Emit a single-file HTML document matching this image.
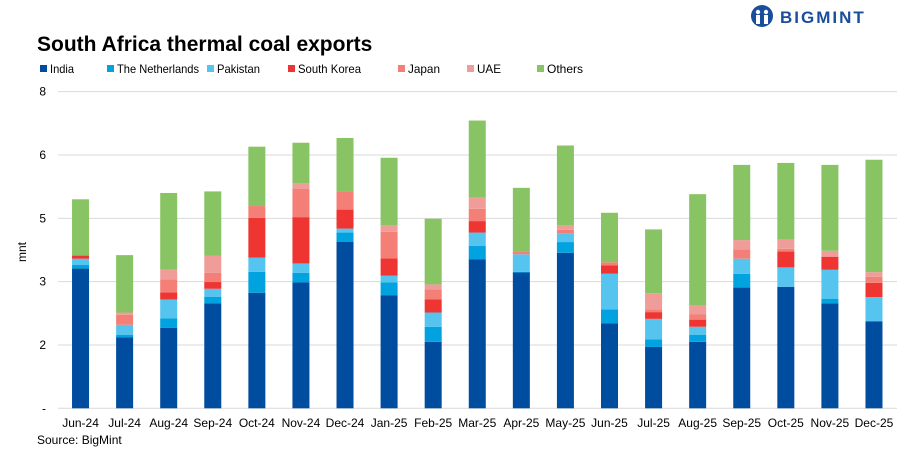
<!DOCTYPE html>
<html><head><meta charset="utf-8"><style>
body{margin:0;background:#fff;font-family:"Liberation Sans",sans-serif;}
#wrap{position:relative;width:907px;height:453px;overflow:hidden;}
</style></head><body>
<div id="wrap">
<svg id="chart" width="907" height="453">
  <text x="37" y="51" font-size="21" font-weight="bold" fill="#000">South Africa thermal coal exports</text>
  <g>
    <circle cx="762" cy="16" r="11" fill="#1a4d9c"/>
    <circle cx="758" cy="12" r="2.2" fill="#fff"/><circle cx="766" cy="12" r="2.2" fill="#fff"/>
    <rect x="756" y="15" width="4" height="9" fill="#fff"/><rect x="764" y="15" width="4" height="9" fill="#fff"/>
    <text x="780" y="23" font-size="17" font-weight="bold" fill="#1a4d9c" letter-spacing="2">BIGMINT</text>
  </g>
  <g id="legend"></g>
  <g id="grid"></g>
  <g id="bars"></g>
  <g id="xlabels"></g>
  <text transform="translate(26,252) rotate(-90)" font-size="12" text-anchor="middle" fill="#000">mnt</text>
  <text x="37" y="444" font-size="12" fill="#000">Source: BigMint</text>
</svg>
</div>
<script>
const categories=["Jun-24","Jul-24","Aug-24","Sep-24","Oct-24","Nov-24","Dec-24","Jan-25","Feb-25","Mar-25","Apr-25","May-25","Jun-25","Jul-25","Aug-25","Sep-25","Oct-25","Nov-25","Dec-25"];
const india=[3.53,1.79,2.03,2.65,2.92,3.18,4.21,2.85,1.68,3.76,3.43,3.93,2.15,1.55,1.68,3.05,3.07,2.65,2.20];
const netherlands=[0.09,0.07,0.24,0.17,0.53,0.24,0.23,0.33,0.38,0.34,0.02,0.27,0.35,0.19,0.18,0.35,0,0.12,0];
const pakistan=[0.16,0.25,0.48,0.20,0.36,0.24,0.10,0.17,0.36,0.34,0.44,0.21,0.90,0.52,0.20,0.38,0.49,0.73,0.61];
const southKorea=[0.08,0,0.18,0.17,1.00,1.17,0.48,0.44,0.33,0.29,0,0,0.21,0.17,0.18,0,0.40,0.33,0.36];
const japan=[0,0.25,0.33,0.23,0.30,0.72,0.46,0.67,0.25,0.31,0.08,0.10,0.08,0.07,0.13,0.23,0.07,0,0.15];
const uae=[0.01,0.06,0.24,0.44,0,0.14,0,0.17,0.13,0.28,0,0.12,0,0.41,0.24,0.24,0.23,0.15,0.12];
const others=[1.41,1.45,1.94,1.62,1.50,1.02,1.35,1.70,1.66,1.95,1.60,2.01,1.25,1.61,2.80,1.90,1.94,2.17,2.84];
const seriesNames=["India","The Netherlands","Pakistan","South Korea","Japan","UAE","Others"];
const tickValues=[0,1.6,3.2,4.8,6.4,8];
const tickLabels=["-","2","3","5","6","8"];

const series=[india,netherlands,pakistan,southKorea,japan,uae,others];
const colors=["#004c9f","#00a3e0","#55c5f0","#ee3531","#f47f77","#f09c98","#88c464"];
const NS="http://www.w3.org/2000/svg";
const X0=58.5,BW=44.08,Y0=408.3,PXU=39.58;
const xScale=i=>X0+BW*i+BW/2;
const yScale=v=>Y0-v*PXU;
function mk(tag,attrs,parent){const e=document.createElementNS(NS,tag);for(const k in attrs)e.setAttribute(k,attrs[k]);parent.appendChild(e);return e;}
const grid=document.getElementById('grid');
tickValues.forEach((t,i)=>{
  const l=mk('line',{x1:58,x2:897,y1:yScale(t),y2:yScale(t),stroke:'#d9d9d9','stroke-width':1},grid);
  
  
  const tx=mk('text',{x:46,y:yScale(t)+4,'font-size':12,'text-anchor':'end',fill:'#000'},grid);
  tx.textContent=tickLabels[i];
  
  
});
const bars=document.getElementById('bars'),xl=document.getElementById('xlabels');
categories.forEach((c,i)=>{
  let cum=0;const bw=17;
  series.forEach((s,k)=>{
    const v=s[i];
    if(v>0){
      const r=mk('rect',{x:xScale(i)-bw/2,y:yScale(cum+v),width:bw,height:v*PXU,fill:colors[k]},bars);
      
      
    }
    cum+=v;
  });
  const t=mk('text',{x:xScale(i),y:427,'font-size':12,'text-anchor':'middle',fill:'#000'},xl);
  t.textContent=c;
  
  
});
const lg=document.getElementById('legend');
const lx=[40,107,207,288,398,467,537];
const lw=[24,82,43,63,32,24,36];
seriesNames.forEach((n,k)=>{
  const r=mk('rect',{x:lx[k],y:65,width:7,height:7,fill:colors[k]},lg);
  
  
  const t=mk('text',{x:lx[k]+10,y:73,'font-size':12,fill:'#000',textLength:lw[k],lengthAdjust:'spacingAndGlyphs'},lg);
  t.textContent=n;
  
  
});
</script>
</body></html>
